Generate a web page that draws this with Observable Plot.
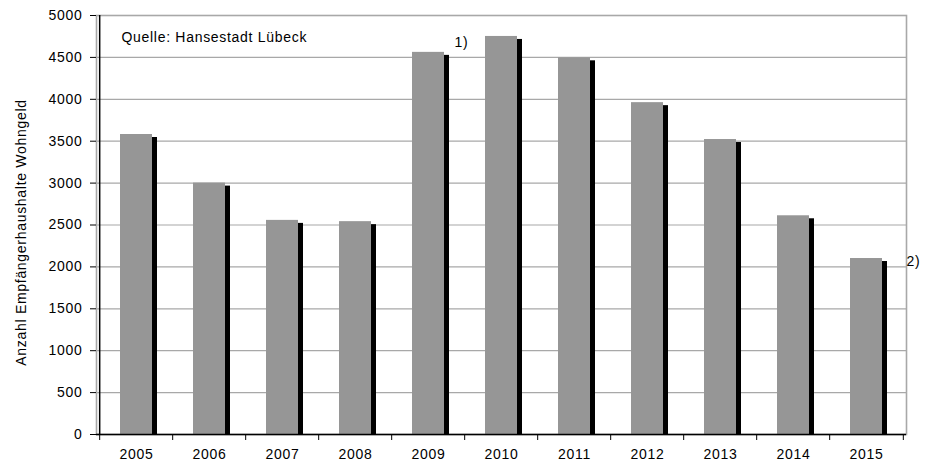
<!DOCTYPE html>
<html>
<head>
<meta charset="utf-8">
<script src="https://cdn.jsdelivr.net/npm/d3@7"></script>
<script src="https://cdn.jsdelivr.net/npm/@observablehq/plot@0.6"></script>
<style>
  html, body { margin: 0; padding: 0; background: #fff; }
  #chart svg text { letter-spacing: 0.7px; }
</style>
</head>
<body>
<div id="chart"></div>
<script>
// ---- data ----
const years = ["2005","2006","2007","2008","2009","2010","2011","2012","2013","2014","2015"];
const households = [3580, 3000, 2555, 2540, 4560, 4750, 4495, 3960, 3520, 2610, 2100];
const yTicks = [0, 500, 1000, 1500, 2000, 2500, 3000, 3500, 4000, 4500, 5000];
const yLabel = "Anzahl Empfängerhaushalte Wohngeld";
const sourceNote = "Quelle: Hansestadt Lübeck";
const noteYears = ["2009", "2015"];
const noteLabels = ["1)", "2)"];

const rows = years.map((y, i) => ({year: y, value: households[i]}));
const notes = noteYears.map((y, i) => ({year: y, value: households[years.indexOf(y)], label: noteLabels[i]}));

// ---- layout ----
const W = 930, H = 465;
const mL = 96, mR = 24, mT = 15, mB = 31;
const step = (W - mL - mR) / years.length;
const noteOffsets = [{dx: 26, dy: -10}, {dx: 40, dy: 3}];

const chart = Plot.plot({
  width: W,
  height: H,
  marginLeft: mL,
  marginRight: mR,
  marginTop: mT,
  marginBottom: mB,
  style: {fontFamily: "'Liberation Sans', Arial, sans-serif", fontSize: "14px", background: "#fff", color: "#000"},
  x: {domain: years, paddingInner: 0.565, paddingOuter: 0.2825, align: 0.5},
  y: {domain: [0, 5000]},
  marks: [
    Plot.gridY(yTicks, {stroke: "#a8a8a8", strokeOpacity: 1, strokeWidth: 1.2}),
    Plot.frame({stroke: "#a8a8a8", strokeWidth: 1.6}),
    // shadow
    Plot.barY(rows, {x: "year", y: "value", fill: "#000", dx: 5, insetTop: 3}),
    // main bars
    Plot.barY(rows, {x: "year", y: "value", fill: "#969696"}),
    // axis lines
    Plot.ruleY([0], {stroke: "#000", strokeWidth: 1.5}),
    Plot.ruleX([years[0]], {x: d => d, y1: 0, y2: 5000, dx: -step / 2, stroke: "#000", strokeWidth: 1.5}),
    // y axis
    Plot.axisY({ticks: yTicks, tickSize: 6, tickPadding: 8, tickFormat: d => String(d), label: null, stroke: "#000"}),
    // x axis labels
    Plot.axisX({tickSize: 0, tickPadding: 15, label: null}),
    // x axis boundary ticks
    Plot.axisX({tickSize: 6, tickFormat: () => "", dx: -step / 2, label: null}),
    Plot.axisX({ticks: [years[years.length - 1]], tickSize: 6, tickFormat: () => "", dx: step / 2, label: null}),
    // y label
    Plot.text([yLabel], {text: d => d, frameAnchor: "left", textAnchor: "middle", rotate: -90, dx: -75, dy: 7.5, fontSize: 14}),
    // source
    Plot.text([sourceNote], {text: d => d, frameAnchor: "top-left", textAnchor: "start", dx: 25, dy: 17, fontSize: 14}),
    // footnote markers
    ...notes.map((n, i) => Plot.text([n], {x: "year", y: "value", text: "label", textAnchor: "start", dx: noteOffsets[i].dx, dy: noteOffsets[i].dy, fontSize: 14}))
  ]
});
document.getElementById("chart").appendChild(chart);
</script>
</body>
</html>
